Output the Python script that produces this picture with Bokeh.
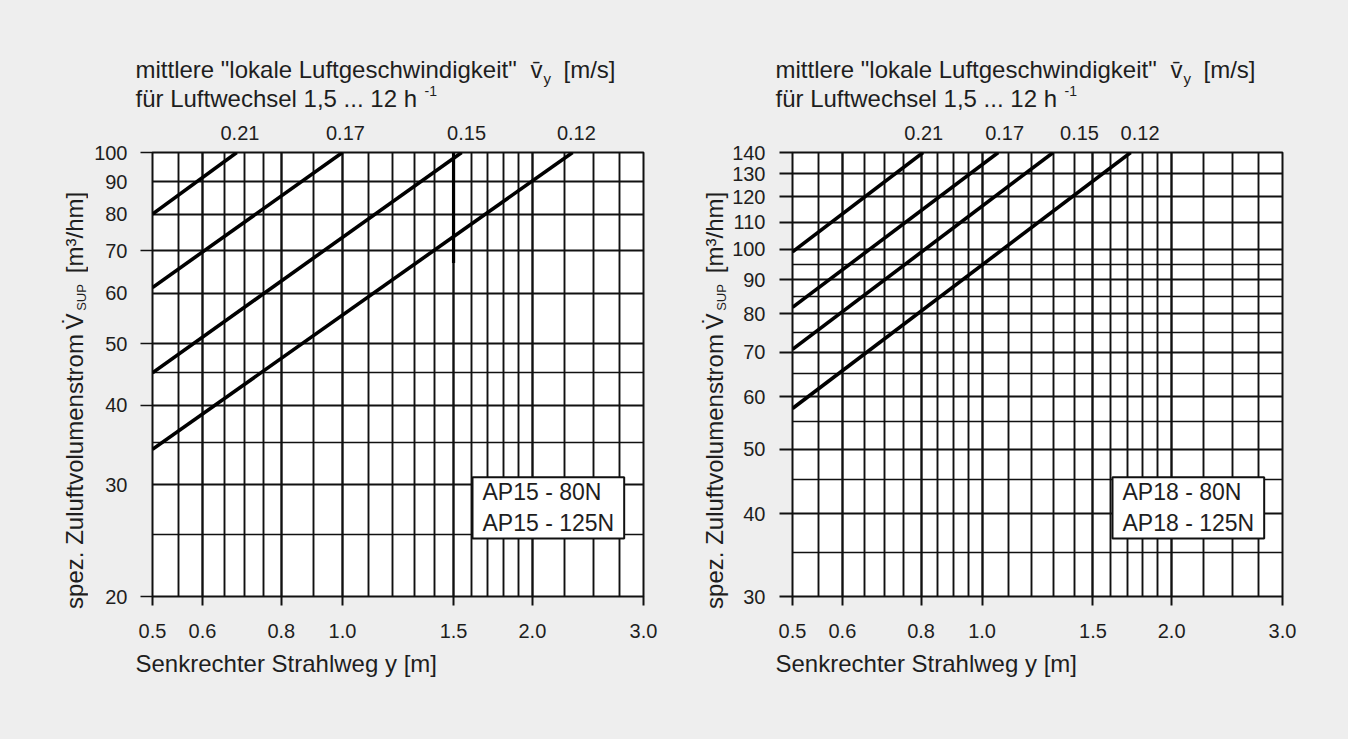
import math
from bokeh.plotting import figure
from bokeh.layouts import row, column
from bokeh.models import (LogAxis, FixedTicker, PrintfTickFormatter, Label, Range1d,
                          Grid, ColumnDataSource, CustomLabelingPolicy)
from bokeh.embed import file_html
from bokeh.resources import INLINE

# ---------------- data ----------------
x_major = [0.5, 0.6, 0.8, 1.0, 1.5, 2.0, 3.0]
left_x_minor = [0.55, 0.65, 0.7, 0.75, 0.9, 1.1, 1.2, 1.3, 1.4, 1.6, 1.7, 1.8, 1.9, 2.25, 2.5, 2.75]
right_x_minor = [0.55, 0.65, 0.7, 0.75, 0.85, 0.9, 0.95, 1.1, 1.2, 1.3, 1.4, 1.6, 1.7, 1.8, 1.9,
                 2.25, 2.5, 2.75]

left_y_labels = [20, 30, 40, 50, 60, 70, 80, 90, 100]
left_y_minor = [25, 35, 45]
left_y_tickmarks = [20, 40, 50, 70, 100]
right_y_labels = [30, 40, 50, 60, 70, 80, 90, 100, 110, 120, 130, 140]
right_y_minor = [35, 45, 55, 65, 75, 85, 95]

# characteristic lines: start at y = 0.5 m, end at the top of the chart
left_line_x_start = [0.5, 0.5, 0.5, 0.5]
left_line_y_start = [80, 61.3, 45, 34.1]
left_line_x_end = [0.68, 1.0, 1.545, 2.316]
left_line_y_end = [100, 100, 100, 100]

right_line_x_start = [0.5, 0.5, 0.5, 0.5]
right_line_y_start = [99.2, 81.8, 70.7, 57.6]
right_line_x_end = [0.806, 1.061, 1.297, 1.722]
right_line_y_end = [140, 140, 140, 140]

velocity_labels = ["0.21", "0.17", "0.15", "0.12"]
left_velocity_x = [0.688, 1.011, 1.573, 2.348]
right_velocity_x = [0.808, 1.086, 1.428, 1.782]

# heavier stub on the 1.5 m line (left chart)
left_stub_x = [1.5, 1.5]
left_stub_y = [67, 100]

left_legend = ["AP15 - 80N", "AP15 - 125N"]
right_legend = ["AP18 - 80N", "AP18 - 125N"]

title1 = "mittlere \"lokale Luftgeschwindigkeit\""
title1_v = "v\u0304"
title1_sub = "y"
title1_unit = "[m/s]"
title2 = "f\u00fcr Luftwechsel 1,5 ... 12 h"
title2_sup = "-1"
xlabel = "Senkrechter Strahlweg  y [m]"
ylabel_a = "spez. Zuluftvolumenstrom"
ylabel_v = "V\u0307"
ylabel_sub = "SUP"
ylabel_unit = "[m\u00b3/hm]"

FONT = "Liberation Sans"
TXT = "#1e1e1e"
INK = "#111111"
BG = "#eeeeee"

PANEL_W = 674
TOP_H = 115
MID_H = 533
BOT_H = 739 - TOP_H - MID_H
FRAME_TOP = 152
FRAME_BOTTOM = 596


def text_fig(w, h):
    f = figure(width=w, height=h, x_range=Range1d(0, w), y_range=Range1d(0, h),
               x_axis_location=None, y_axis_location=None, min_border=0,
               output_backend="svg", toolbar_location=None, frame_align=False,
               background_fill_color=BG, border_fill_color=BG, outline_line_color=None)
    f.grid.visible = False
    return f


def tlabel(f, h, x, ytop, text, size, angle=0.0, align="left"):
    f.add_layout(Label(x=x, y=h - ytop, text=text, text_font=FONT, text_font_size=size,
                       text_color=TXT, angle=angle, text_align=align,
                       text_baseline="middle"))


def make_panel(frame_left, frame_right, ylab_w, x_minor, y_labels, y_minor, y_ticks, y_rng,
               xs0, ys0, xs1, ys1, v_x, legend, stub=None):
    fl = frame_left
    # ---- top text strip (titles)
    top = text_fig(PANEL_W, TOP_H)
    tlabel(top, TOP_H, fl - 17, 69, title1, "24px")
    tlabel(top, TOP_H, fl + 378, 69, title1_v, "24px")
    tlabel(top, TOP_H, fl + 391, 78, title1_sub, "15px")
    tlabel(top, TOP_H, fl + 411, 69, title1_unit, "24px")
    tlabel(top, TOP_H, fl - 17, 98, title2, "24px")
    tlabel(top, TOP_H, fl + 272, 90, title2_sup, "14px")

    # ---- y label strip (rotated text, centred pieces)
    ylab = text_fig(ylab_w, MID_H)
    ang = math.pi / 2
    tlabel(ylab, MID_H, fl - 78, 471 - TOP_H, ylabel_a, "24px", angle=ang, align="center")
    tlabel(ylab, MID_H, fl - 78, 321 - TOP_H, ylabel_v, "24px", angle=ang, align="center")
    tlabel(ylab, MID_H, fl - 71, 297 - TOP_H, ylabel_sub, "13px", angle=ang, align="center")
    tlabel(ylab, MID_H, fl - 78, 232 - TOP_H, ylabel_unit, "24px", angle=ang, align="center")

    # ---- chart
    p = figure(width=PANEL_W - ylab_w, height=MID_H, x_axis_type="log", y_axis_type="log",
               x_range=Range1d(0.5, 3.0), y_range=Range1d(*y_rng),
               x_axis_location=None, y_axis_location=None,
               output_backend="svg", toolbar_location=None,
               min_border_left=frame_left - ylab_w, min_border_right=PANEL_W - frame_right,
               min_border_top=FRAME_TOP - TOP_H,
               min_border_bottom=TOP_H + MID_H - FRAME_BOTTOM,
               background_fill_color="white", border_fill_color=BG,
               outline_line_color=INK, outline_line_width=2)
    p.grid.visible = False

    gx = Grid(dimension=0, ticker=FixedTicker(ticks=x_major, minor_ticks=x_minor),
              grid_line_color=INK, grid_line_width=2.4,
              minor_grid_line_color=INK, minor_grid_line_width=1.9)
    gy = Grid(dimension=1, ticker=FixedTicker(ticks=y_labels, minor_ticks=y_minor),
              grid_line_color=INK, grid_line_width=2.0,
              minor_grid_line_color=INK, minor_grid_line_width=1.5)
    p.add_layout(gx)
    p.add_layout(gy)

    src = ColumnDataSource(dict(x0=xs0, y0=ys0, x1=xs1, y1=ys1))
    p.segment(x0="x0", y0="y0", x1="x1", y1="y1", source=src, line_color="black",
              line_width=3.6)
    if stub is not None:
        p.line(x=stub[0], y=stub[1], line_color="black", line_width=3.2)

    common = dict(major_label_text_font=FONT, major_label_text_font_size="20px",
                  major_label_text_color=TXT, axis_line_color=None,
                  minor_tick_out=0, minor_tick_in=0, major_tick_in=0,
                  major_tick_line_color=INK, major_tick_line_width=2)

    xb = LogAxis(ticker=FixedTicker(ticks=x_major), formatter=PrintfTickFormatter(format="%.1f"),
                 major_tick_out=9, major_label_standoff=18, **common)
    p.add_layout(xb, "below")

    if y_ticks is not None:
        yt = LogAxis(ticker=FixedTicker(ticks=y_ticks), major_tick_out=12,
                     major_label_overrides={v: "" for v in y_ticks},
                     major_label_policy=CustomLabelingPolicy(code="return []"),
                     major_label_standoff=0, axis_line_color=None, minor_tick_out=0,
                     minor_tick_in=0, major_tick_in=0, major_tick_line_color=INK,
                     major_tick_line_width=1.6)
        p.add_layout(yt, "left")
        yl = LogAxis(ticker=FixedTicker(ticks=y_labels), formatter=PrintfTickFormatter(format="%d"),
                     major_tick_out=0, major_label_standoff=13, **common)
        p.add_layout(yl, "left")
    else:
        yl = LogAxis(ticker=FixedTicker(ticks=y_labels), formatter=PrintfTickFormatter(format="%d"),
                     major_tick_out=13, major_label_standoff=14, **common)
        p.add_layout(yl, "left")

    xt = LogAxis(ticker=FixedTicker(ticks=v_x),
                 major_label_overrides={v: t for v, t in zip(v_x, velocity_labels)},
                 major_tick_out=0, major_label_standoff=13, **common)
    p.add_layout(xt, "above")

    p.add_layout(Label(x=320, y=58, x_units="screen", y_units="screen",
                       text="\n".join(legend), text_font=FONT, text_font_size="23px",
                       text_color=TXT, text_line_height=1.2,
                       background_fill_color="white", border_line_color=INK,
                       border_line_width=2, padding=(10, 10, 2, 2)))

    # ---- bottom text strip (x axis title)
    bot = text_fig(PANEL_W, BOT_H)
    tlabel(bot, BOT_H, fl - 17, 663 - TOP_H - MID_H, xlabel, "24px")

    mid = row(ylab, p, styles={"background-color": BG})
    return column(top, mid, bot, styles={"background-color": BG})


panel_left = make_panel(152, 643, 88, left_x_minor, left_y_labels, left_y_minor, left_y_tickmarks,
                        (20, 100), left_line_x_start, left_line_y_start, left_line_x_end,
                        left_line_y_end, left_velocity_x, left_legend,
                        stub=(left_stub_x, left_stub_y))
panel_right = make_panel(118, 608, 55, right_x_minor, right_y_labels, right_y_minor, None,
                         (30, 140), right_line_x_start, right_line_y_start, right_line_x_end,
                         right_line_y_end, right_velocity_x, right_legend)

layout = row(panel_left, panel_right, styles={"background-color": BG})
open("out.html", "w").write(file_html(layout, INLINE))
